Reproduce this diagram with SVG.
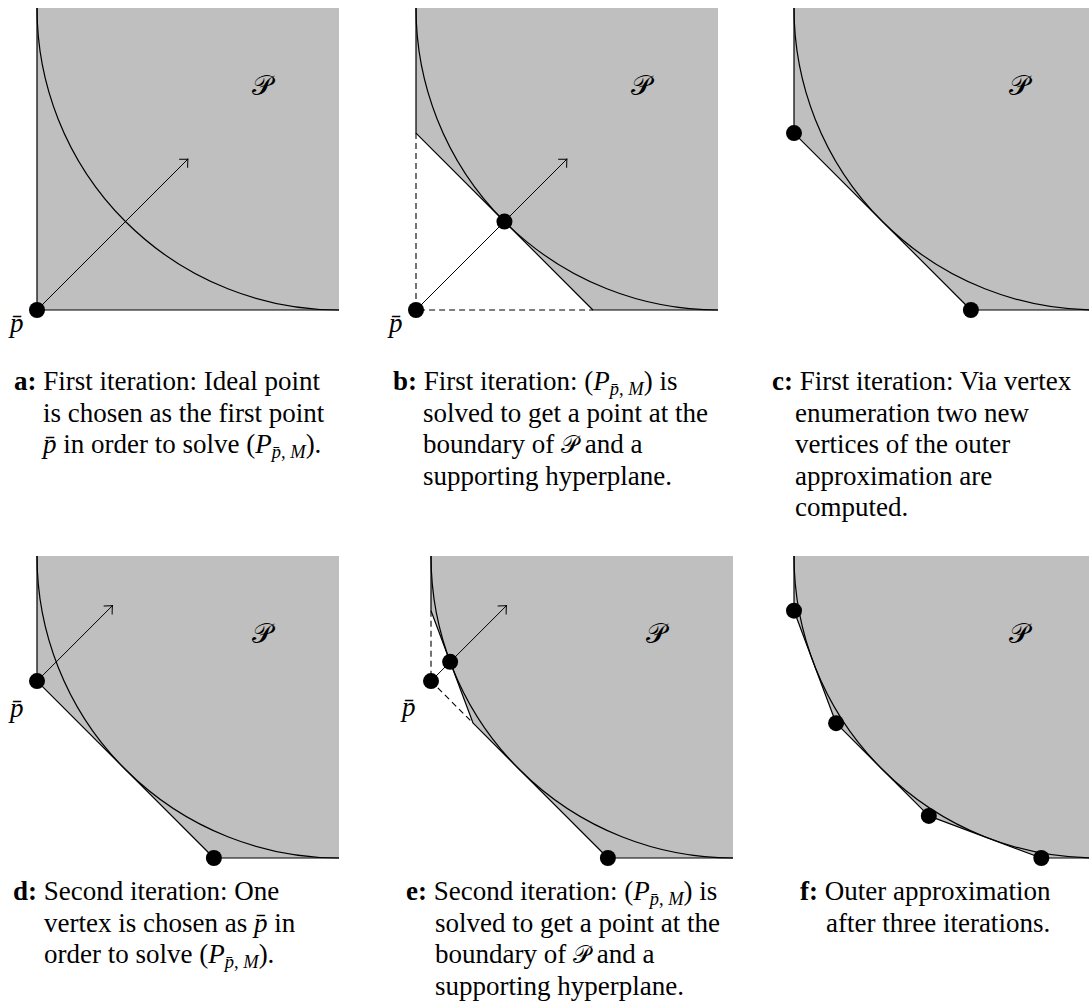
<svg xmlns="http://www.w3.org/2000/svg" width="1089" height="1005" viewBox="0 0 1089 1005">
<style>
.bg{fill:#bfbfbf;stroke:none}
.edge{fill:none;stroke:#000;stroke-width:1.2;stroke-linejoin:round}
.dash{fill:none;stroke:#000;stroke-width:1.1;stroke-dasharray:6 4}
.arr{fill:none;stroke:#000;stroke-width:1;marker-end:url(#ah)}
.dot{fill:#000}
.cal{font-family:"DejaVu Serif","DejaVu Sans",serif;font-size:28px;fill:#000}
.pl{font-family:"Liberation Serif",serif;font-style:italic;font-size:27px;fill:#000}
.cap{font-family:"Liberation Serif",serif;font-size:27px;fill:#000}
.b{font-weight:bold}
.i{font-style:italic}
.sub{font-size:18.5px}
.calc{font-family:"DejaVu Serif","DejaVu Sans",serif;font-size:24px}
</style>
<defs>
<marker id="ah" viewBox="-10 -10 20 20" markerWidth="20" markerHeight="20" refX="0" refY="0" orient="auto" markerUnits="userSpaceOnUse" overflow="visible">
<path d="M -6.5 -6 Q -2 -1.5 0 0 Q -2 1.5 -6.5 6" fill="none" stroke="#000" stroke-width="1"/>
</marker>
<path id="arc" d="M 0 0 A 302 302 0 0 0 302 302" fill="none" stroke="#000" stroke-width="1.2"/>
</defs>

<g id="panel-a" transform="translate(37,8)">
<rect class="bg" x="0" y="0" width="302" height="302"/>
<path class="edge" d="M 0 0 V 302 H 302"/>
<use href="#arc"/>
<line class="arr" x1="0" y1="302" x2="151" y2="151"/>
<circle class="dot" cx="0" cy="302" r="8"/>
<text class="cal" x="215" y="87">𝒫</text>
<text class="pl" x="-27" y="324">p̄</text>
</g>

<g id="panel-b" transform="translate(416,8)">
<polygon class="bg" points="0,0 0,125.1 176.9,302 302,302 302,0"/>
<path class="edge" d="M 0 0 V 125.1 L 176.9 302 H 302"/>
<path class="dash" d="M 0 125.1 V 302 H 176.9"/>
<use href="#arc"/>
<line class="arr" x1="0" y1="302" x2="151" y2="151"/>
<circle class="dot" cx="0" cy="302" r="8"/>
<circle class="dot" cx="88.45" cy="213.55" r="8"/>
<text class="cal" x="215" y="87">𝒫</text>
<text class="pl" x="-27" y="324">p̄</text>
</g>

<g id="panel-c" transform="translate(794,8)">
<polygon class="bg" points="0,0 0,125.1 176.9,302 302,302 302,0"/>
<path class="edge" d="M 0 0 V 125.1 L 176.9 302 H 302"/>
<use href="#arc"/>
<circle class="dot" cx="0" cy="125.1" r="8"/>
<circle class="dot" cx="176.9" cy="302" r="8"/>
<text class="cal" x="215" y="87">𝒫</text>
</g>

<g id="panel-d" transform="translate(37,556)">
<polygon class="bg" points="0,0 0,125.1 176.9,302 302,302 302,0"/>
<path class="edge" d="M 0 0 V 125.1 L 176.9 302 H 302"/>
<use href="#arc"/>
<line class="arr" x1="0" y1="125.1" x2="75.5" y2="49.6"/>
<circle class="dot" cx="0" cy="125.1" r="8"/>
<circle class="dot" cx="176.9" cy="302" r="8"/>
<text class="cal" x="215" y="87">𝒫</text>
<text class="pl" x="-27" y="161">p̄</text>
</g>

<g id="panel-e" transform="translate(431,556)">
<polygon class="bg" points="0,0 0,54.7 42.1,167.2 176.9,302 302,302 302,0"/>
<path class="edge" d="M 0 0 V 54.7 L 42.1 167.2 L 176.9 302 H 302"/>
<path class="dash" d="M 0 54.7 V 125.1 L 42.1 167.2"/>
<use href="#arc"/>
<line class="arr" x1="0" y1="125.1" x2="75.5" y2="49.6"/>
<circle class="dot" cx="0" cy="125.1" r="8"/>
<circle class="dot" cx="19.15" cy="105.85" r="8"/>
<circle class="dot" cx="176.9" cy="302" r="8"/>
<text class="cal" x="215" y="87">𝒫</text>
<text class="pl" x="-29" y="160">p̄</text>
</g>

<g id="panel-f" transform="translate(794,556)">
<polygon class="bg" points="0,0 0,54.7 42.1,167.2 134.8,259.9 247.3,302 302,302 302,0"/>
<path class="edge" d="M 0 0 V 54.7 L 42.1 167.2 L 134.8 259.9 L 247.3 302 H 302"/>
<use href="#arc"/>
<circle class="dot" cx="0" cy="54.7" r="8"/>
<circle class="dot" cx="42.1" cy="167.2" r="8"/>
<circle class="dot" cx="134.8" cy="259.9" r="8"/>
<circle class="dot" cx="247.3" cy="302" r="8"/>
<text class="cal" x="215" y="87">𝒫</text>
</g>

<g id="caption-a" class="cap">
<text x="14" y="390"><tspan class="b">a:</tspan> First iteration: Ideal point</text>
<text x="43" y="421.5">is chosen as the first point</text>
<text x="43" y="453"><tspan class="i">p̄</tspan> in order to solve (<tspan class="i">P</tspan><tspan class="sub" dy="5"><tspan class="i">p̄</tspan>, <tspan class="i">M</tspan></tspan><tspan dy="-5">).</tspan></text>
</g>

<g id="caption-b" class="cap">
<text x="393" y="390"><tspan class="b">b:</tspan> First iteration: (<tspan class="i">P</tspan><tspan class="sub" dy="5"><tspan class="i">p̄</tspan>, <tspan class="i">M</tspan></tspan><tspan dy="-5">) is</tspan></text>
<text x="423" y="421.5">solved to get a point at the</text>
<text x="423" y="453">boundary of <tspan class="calc">𝒫</tspan> and a</text>
<text x="423" y="484.5">supporting hyperplane.</text>
</g>

<g id="caption-c" class="cap">
<text x="772" y="390"><tspan class="b">c:</tspan> First iteration: Via vertex</text>
<text x="795" y="421.5">enumeration two new</text>
<text x="795" y="453">vertices of the outer</text>
<text x="795" y="484.5">approximation are</text>
<text x="795" y="516">computed.</text>
</g>

<g id="caption-d" class="cap">
<text x="13" y="900"><tspan class="b">d:</tspan> Second iteration: One</text>
<text x="44" y="931.5">vertex is chosen as <tspan class="i">p̄</tspan> in</text>
<text x="44" y="963">order to solve (<tspan class="i">P</tspan><tspan class="sub" dy="5"><tspan class="i">p̄</tspan>, <tspan class="i">M</tspan></tspan><tspan dy="-5">).</tspan></text>
</g>

<g id="caption-e" class="cap">
<text x="406" y="900"><tspan class="b">e:</tspan> Second iteration: (<tspan class="i">P</tspan><tspan class="sub" dy="5"><tspan class="i">p̄</tspan>, <tspan class="i">M</tspan></tspan><tspan dy="-5">) is</tspan></text>
<text x="435" y="931.5">solved to get a point at the</text>
<text x="435" y="963">boundary of <tspan class="calc">𝒫</tspan> and a</text>
<text x="435" y="994.5">supporting hyperplane.</text>
</g>

<g id="caption-f" class="cap">
<text x="800" y="900"><tspan class="b">f:</tspan> Outer approximation</text>
<text x="826" y="931.5">after three iterations.</text>
</g>
</svg>
